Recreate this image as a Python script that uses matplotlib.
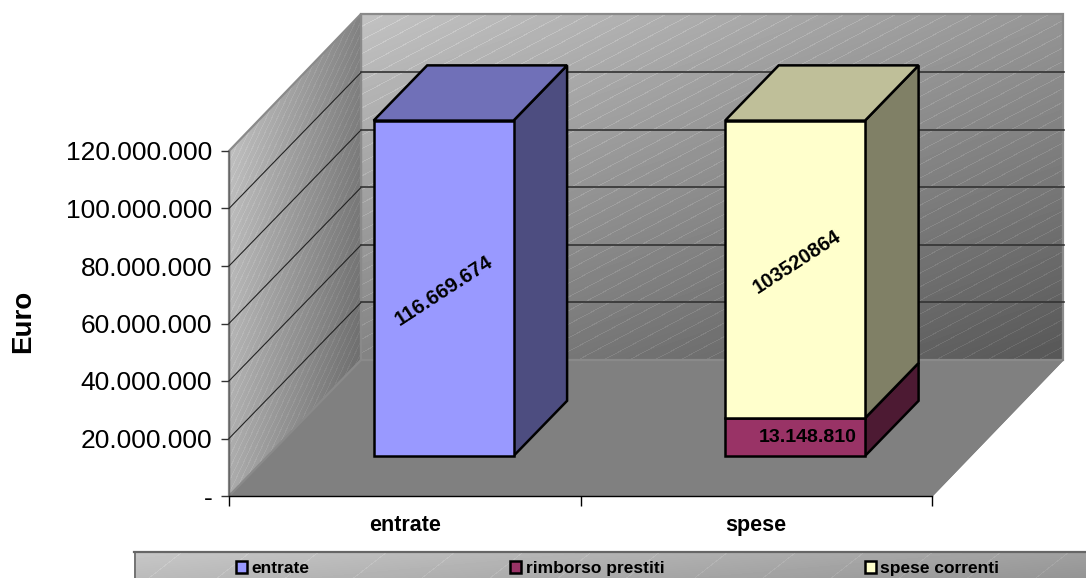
import numpy as np
import matplotlib
matplotlib.use("Agg")
import matplotlib.pyplot as plt
from matplotlib.patches import Polygon, Rectangle

plt.rcParams['font.family'] = ['Liberation Sans', 'DejaVu Sans']

categories = ["entrate", "spese"]
series_names = ["entrate", "rimborso prestiti", "spese correnti"]
entrate = [116669674, 0]
rimborso = [0, 13148810]
correnti = [0, 103520864]
y_ticks = [0, 20000000, 40000000, 60000000, 80000000, 100000000, 120000000]
y_labels = ["-", "20.000.000", "40.000.000", "60.000.000", "80.000.000", "100.000.000", "120.000.000"]

W, H = 1086, 578
fig = plt.figure(figsize=(W / 100, H / 100), dpi=100)

# background layer in pixels: walls, floor, legend band
bg = fig.add_axes([0, 0, 1, 1])
bg.set_xlim(0, W)
bg.set_ylim(H, 0)
bg.axis("off")


def textured(x0, x1, y0, y1, light, dark, angle, period, stripe, clip=None, wx=1.0, wy=1.0):
    xx, yy = np.meshgrid(np.arange(x0, x1), np.arange(y0, y1))
    t = (wx * (xx - x0) / (x1 - x0) + wy * (yy - y0) / (y1 - y0)) / (wx + wy)
    g = light + (dark - light) * t
    a = np.radians(angle)
    s = (xx * np.sin(a) + yy * np.cos(a)) % period
    g = g + stripe * (s < 1.0)
    im = bg.imshow(np.clip(g, 0, 1), extent=(x0, x1, y1, y0), cmap="gray", vmin=0, vmax=1,
                   aspect="auto", interpolation="bilinear", zorder=1)
    if clip is not None:
        poly = Polygon(clip, closed=True, transform=bg.transData, fc="none", ec="none")
        bg.add_patch(poly)
        im.set_clip_path(poly)
    return im


back = [(361, 14), (1063, 14), (1063, 360), (361, 360)]
left = [(229, 151), (361, 14), (361, 360), (229, 496)]
floor = [(229, 496), (361, 360), (1063, 360), (932, 496)]

textured(361, 1063, 14, 360, 0.76, 0.34, 28, 12, 0.06, back, wx=0.7, wy=1.0)
textured(229, 361, 14, 496, 0.78, 0.40, 65, 5, 0.04, left, wx=1.0, wy=0.4)
bg.add_patch(Polygon(floor, closed=True, fc="#808080", ec="#808080", zorder=2))
bg.add_patch(Polygon(back, closed=True, fc="none", ec="#8a8a8a", lw=1.6, zorder=3))
bg.add_patch(Polygon(left, closed=True, fc="none", ec="#8a8a8a", lw=1.6, zorder=3))
bg.plot([1063, 932], [360, 496], color="#808080", lw=1, zorder=3)

# legend band
textured(134, W, 552, H, 0.78, 0.58, 38, 42, 0.04, None, wx=1.0, wy=0.3)
bg.plot([134, W], [552, 552], color="#666666", lw=1.6, zorder=3)
bg.plot([134.5, 134.5], [552, H], color="#666666", lw=1.2, zorder=3)

# main axes sits on the front plane of the 3d box
ax = fig.add_axes([229 / W, (H - 496) / H, 703 / W, 345 / H])
ax.patch.set_alpha(0)
ax.set_xlim(0, 2)
ax.set_ylim(0, 120000000)

DX = 132 / 703 * 2
DY = 136 / 345 * 120000000
D0, D1 = 0.294, 0.70
BAR_W = 0.398


def proj(x, y, d):
    return (x + d * DX, y + d * DY)


def box3d(cat, y0, y1, front, top, side):
    x0 = cat + 0.5 - BAR_W / 2
    x1 = cat + 0.5 + BAR_W / 2
    kw = dict(closed=True, ec="black", lw=1.8, clip_on=False, joinstyle="miter")
    ax.add_patch(Polygon([proj(x0, y0, D0), proj(x1, y0, D0), proj(x1, y1, D0), proj(x0, y1, D0)], fc=front, zorder=5, **kw))
    ax.add_patch(Polygon([proj(x1, y0, D0), proj(x1, y0, D1), proj(x1, y1, D1), proj(x1, y1, D0)], fc=side, zorder=4, **kw))
    if top:
        ax.add_patch(Polygon([proj(x0, y1, D0), proj(x1, y1, D0), proj(x1, y1, D1), proj(x0, y1, D1)], fc=top, zorder=4, **kw))


# wall gridlines, the top one is just the wall edge
for v in y_ticks[1:-1]:
    ax.plot([0, DX], [v, v + DY], color="#222222", lw=0.8, clip_on=False, zorder=3)
    ax.plot([DX, 2 + DX], [v + DY, v + DY], color="#333333", lw=1.2, clip_on=False, zorder=3)

box3d(0, 0, entrate[0], "#9999FF", "#7070B8", "#4D4D80")
box3d(1, 0, rimborso[1], "#993366", None, "#4D1A33")
box3d(1, rimborso[1], rimborso[1] + correnti[1], "#FFFFCC", "#BFBF99", "#808066")

lx, ly = proj(0.5, entrate[0] / 2, D0)
ax.text(lx, ly - 900000, "116.669.674", rotation=33, rotation_mode="anchor", ha="center", va="center",
        fontsize=14.7, fontweight="bold", color="black", zorder=6)
lx, ly = proj(1.5, rimborso[1] + correnti[1] / 2, D0)
ax.text(lx + 0.005, ly + 2500000, "103520864", rotation=33, rotation_mode="anchor", ha="center", va="center",
        fontsize=14.5, fontweight="bold", color="black", zorder=6)
lx, ly = proj(1.5, rimborso[1] / 2, D0)
ax.text(lx + 0.035, ly, "13.148.810", ha="center", va="center",
        fontsize=14, fontweight="bold", color="black", zorder=6)

ax.set_yticks(y_ticks)
ax.set_yticklabels(y_labels, fontsize=19)
ax.set_xticks([0, 1, 2])
ax.set_xticklabels([])
ax.set_xticks([0.5, 1.5], minor=True)
ax.set_xticklabels(categories, minor=True, fontsize=15.5, fontweight="bold")
ax.tick_params(axis="x", which="major", length=7, width=1, color="black")
ax.tick_params(axis="x", which="minor", length=0, pad=14)
ax.tick_params(axis="y", length=6, width=1, color="#333333", pad=6)
for s in ["top", "right"]:
    ax.spines[s].set_visible(False)
ax.spines["left"].set_color("#666666")
ax.spines["left"].set_linewidth(1.0)
ax.spines["bottom"].set_color("black")
ax.spines["bottom"].set_linewidth(1.0)
ax.set_ylabel("Euro", fontsize=20, fontweight="bold", labelpad=0)
ax.yaxis.set_label_coords(-193 / 703, 0.505)

# legend entries
legend_x = [235.5, 509.5, 864.5]
legend_c = ["#9999FF", "#993366", "#FFFFCC"]
for name, x, c in zip(series_names, legend_x, legend_c):
    bg.add_patch(Rectangle((x, 561), 11, 12, fc=c, ec="black", lw=1.8, zorder=4))
    bg.text(x + 16, 573, name, fontsize=12.5, fontweight="bold", va="baseline", ha="left", zorder=4)

fig.savefig("out.png", dpi=100)
